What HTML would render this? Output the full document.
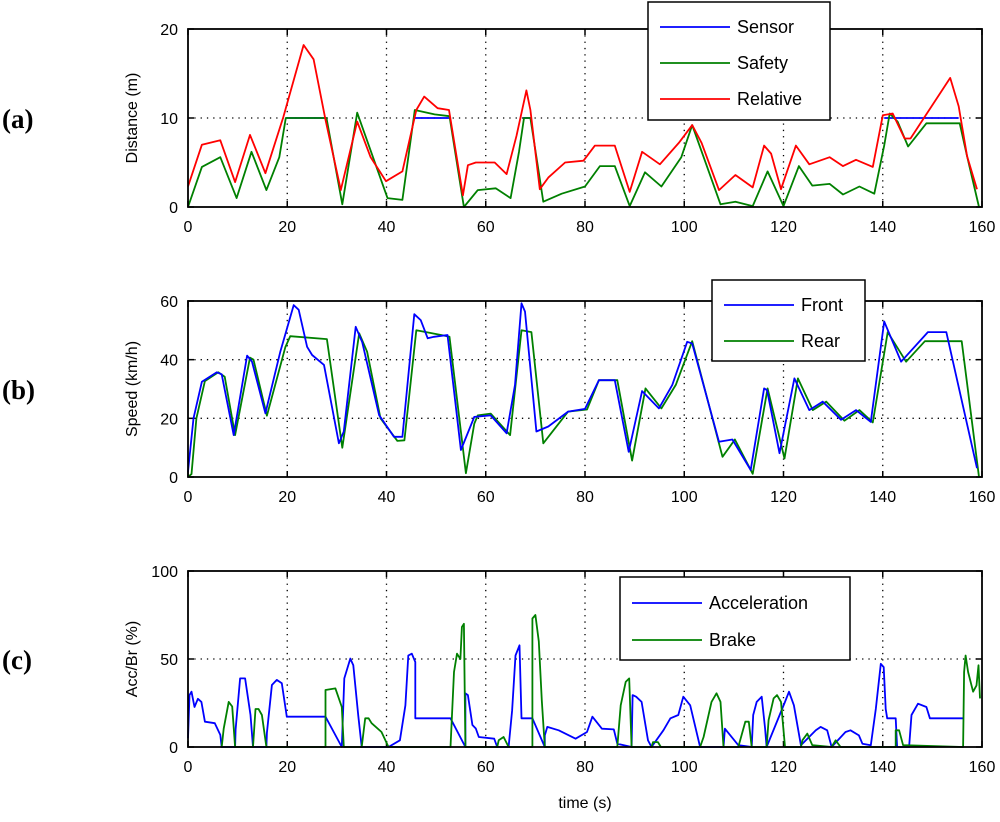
<!DOCTYPE html>
<html><head><meta charset="utf-8"><style>
body{margin:0;background:#fff;}
svg text{font-family:"Liberation Sans",Arial,sans-serif;}
</style></head><body>
<svg id="c" width="1000" height="817" viewBox="0 0 1000 817" xmlns="http://www.w3.org/2000/svg"></svg>
<script>
// ---------- Panel (a) data ----------
const tRel=[0,2.8,6.5,9.5,12.5,15.6,19.2,23.3,25.3,27.7,30.8,34.1,36.8,39.9,43.2,46,47.6,50.3,52.6,55.4,56.4,58,61.8,64.2,66.2,68.2,69,70.9,72.6,76,79.7,82,86,89,91.5,95.1,98.9,101.6,103.5,107,110.3,113.8,116.1,117.5,119.5,122.5,125.2,129.3,132,134.6,138,140,142,144.4,145.6,153.6,155.3,157,159];
const vRel=[2.3,7.0,7.5,2.8,8.1,3.8,10.1,18.2,16.6,9.8,1.9,9.6,5.6,2.9,4.0,10.9,12.4,11.1,10.9,1.3,4.7,5.0,5.0,3.7,8.0,13.1,10.9,2.0,3.3,5.0,5.2,6.9,6.9,1.7,6.2,4.8,7.2,9.2,7.2,1.9,3.6,2.2,6.9,6.0,2.0,6.9,4.8,5.6,4.6,5.3,4.5,10.3,10.5,7.7,7.7,14.5,11.3,5.7,2.0];
// sensor segments: consecutive pairs (start,end)
const tSen=[19.7,27.9,45.7,52.7,67.5,69.3,140.3,155.3];
const vSen=[10,10,10,10,10,10,10,10];
const tSaf=[0,2.8,6.5,9.8,12.8,15.8,18.4,19.7,27.9,31.1,34.1,40.2,43.2,45.7,49.7,52.7,55.6,58.4,62,65,66.7,67.7,69,71.6,75.3,80,83,86,89,92.1,95.4,99.4,101.6,107.3,110.3,113.8,116.8,120,123.1,125.8,129.3,132,135.3,138.3,140.3,141.4,143,145.1,148.8,155.5,157,159.4];
const vSaf=[0,4.5,5.6,1.0,6.2,1.9,5.6,10,10,0.3,10.6,1.0,0.8,10.9,10.4,10.2,0,1.9,2.1,1.0,6.2,10,10,0.6,1.5,2.3,4.6,4.6,0.1,3.9,2.3,5.6,9.2,0.3,0.6,0.1,4.0,0.1,4.6,2.4,2.6,1.4,2.3,1.5,6.9,10.5,9.6,6.8,9.4,9.4,5.7,0];
// ---------- Panel (b) data ----------
const tFront=[0,1.1,2.8,5.8,6.8,9.2,11.9,12.9,15.6,18.6,21.3,22.3,24,25,27.4,30.4,31.4,33.8,35.1,38.5,41.5,43.2,45.6,46.9,48.3,49.6,52.3,55,57.7,61,64.2,65.9,67.2,67.9,70.2,72.6,76.6,80,82.8,86,88.8,91.5,94.9,97.6,100.6,101.6,107,109.7,113.4,116.1,116.7,119.2,122.2,125.2,127.9,131.6,134.6,137.6,140.3,143.7,149.1,152.8,159];
const vFront=[1.8,20,32.5,35.7,35,14.3,41.4,39.3,21.7,42.7,58.6,57,44.4,41.6,38.2,11.5,15.5,51.2,46,21.1,13.7,13.7,55.5,53.5,47.3,47.8,48.4,9.2,20.5,21,14.9,31.4,59.2,56.4,15.5,17.2,22.3,23.2,33,33,8.6,29.3,23.4,31.4,46.1,45.5,12,12.8,2.4,30.2,29.6,8.1,33.6,22.8,25.7,19.5,22.8,18.8,53,39.3,49.4,49.4,3];
const tRear=[0,0.7,1.7,3.4,6.1,7.4,9.5,12.5,13.2,15.9,19.6,20.6,28,31.1,34.5,36.1,38.8,42.2,43.6,46,51,52.7,56,57.7,58.4,61,64.9,67.2,69.2,71.6,76.6,80.4,82.8,86.5,89.5,92.2,95.4,98.3,101.6,107.7,110.2,113.8,116.8,120.2,122.9,125.9,128.6,132.3,135.3,138,141,144.7,148.5,155.9,159.4];
const vRear=[0,1,20,32.7,35.7,34.2,14.3,40.7,40,20.9,44.2,48,47,10,49,42.7,20,12.3,12.5,50,48.4,47.8,1.3,18.2,21,21.6,14.3,50,49.4,11.5,22.3,23,33,33,5.6,30.2,23.4,31.4,46.3,6.9,12.8,1.1,30.2,6.3,33.6,22.8,25.7,19.2,22.8,18.6,49.4,39.3,46.3,46.3,0];
// ---------- Panel (c) data ----------
const tAcc=[0,0.3,0.7,1.3,2,2.7,3.4,5.4,6.5,6.8,9.5,9.6,10.5,11.5,12.6,13.1,15.8,15.9,16.9,17.9,18.9,19.9,27.7,31,31.5,32.7,33.3,34.3,35,40.4,42.7,43.8,44.4,45.1,45.8,45.8,52.9,55.9,55.9,56.4,57.3,58,58.6,61.7,62.3,64.6,65.3,66,66.8,67.2,69.4,71.9,71.9,72.4,74.7,78.1,80.4,81.5,83.4,85.8,86.5,89.4,89.6,90.3,91.4,92.7,93.4,95.8,97.2,98.8,99.8,101.2,103.2,107.9,108.2,110.9,113.6,113.9,114.6,115.6,116.3,116.6,120.3,121.1,122.1,123.5,126.5,127.5,128.8,129.7,132.5,133.5,135.2,135.9,137.6,138.6,139.6,140.2,140.6,140.9,142.6,142.9,145.3,145.8,147.1,148.8,149.5,156.2];
const vAcc=[5,29.5,31.4,22.7,27.4,25.6,14.4,13.5,6.9,0,0,10,39,39,18.2,0,0,8,35.2,38.1,36.2,17.2,17.2,0,39,50.2,46.4,18.2,0,0,3.8,23.7,52,53,48.3,16.3,16.3,0,30.5,29.5,12.5,10.5,5.7,4.7,0,0,20.6,52,57.8,16.3,16.3,0,6.6,11.4,9.5,4.7,8.5,17.2,10.4,10,1.9,0,29.5,28.6,25.6,3.8,0,9.5,16.3,18.2,28.6,23.7,0,0,10.4,1,0,18.2,25.6,28.6,10.4,0,25.6,31.4,23.7,1,9.5,11.4,9.5,0,8.5,9.5,6.6,1.9,1,21.6,47.3,45.4,21.6,16.3,16.3,0,0,18.2,24.6,22.7,16.3,16.3];
const tBrk=[6.8,7.2,8.2,8.9,9.5,13.1,13.6,14.2,14.9,15.8,27.7,27.7,29.7,31,31.4,35,35.7,36.4,37,39,40.4,52.9,53.6,54.2,54.9,55.2,55.6,55.9,62.3,62.6,63.6,64.6,69.4,69.4,70,70.7,71.3,71.9,86.5,87.2,88.2,88.9,89.4,93.4,93.7,94.7,95.3,103.2,103.9,105.5,106.5,107.3,107.9,110.9,112.3,113,113.6,116.6,117,118,118.7,119.5,120.3,123.5,123.8,124.8,125.8,129.7,130.5,131.5,142.6,142.6,143.3,144.1,156.2,156.4,156.7,157.2,158.2,158.9,159.3,159.6];
const vBrk=[0,10.4,25.6,23,0,0,21.6,21.6,18.2,0,0,32.4,33.3,22.7,0,0,16.3,16.3,13.5,8.5,0,0,42.6,53,50,68.2,70,0,0,3.8,5.7,0,0,73,75,60,26.5,0,0,23.7,37,39,0,0,2.8,2.8,0,0,5.7,25.6,30.5,25.6,0,0,14.4,14.4,0,0,15.3,27.6,29.5,25.6,0,0,3.8,7.6,1,0,3.8,0,0,9.5,9.5,1,0,42.6,52,42.6,31.4,35,46.4,27.6];
const xTicks=[0,20,40,60,80,100,120,140,160];
const yTicksA=[0,10,20], yTicksB=[0,20,40,60], yTicksC=[0,50,100];

const svg=document.getElementById('c');
const NS='http://www.w3.org/2000/svg';
function mk(tag,attrs,parent){const e=document.createElementNS(NS,tag);for(const k in attrs)e.setAttribute(k,attrs[k]);(parent||svg).appendChild(e);return e;}
const X0=188,X1=982;
function xs(t){return X0+(X1-X0)*t/160;}
function makeAxes(name,top,bot,ymax,yTicks,ylabel,tag){
  const g=mk('g',{});
  
  
  const ys=v=>bot-(bot-top)*v/ymax;
  xTicks.forEach(t=>{const x=xs(t);
    if(t>0&&t<160){const l=mk('line',{x1:x,y1:top,x2:x,y2:bot,stroke:'#000','stroke-width':1.3,'stroke-dasharray':'1.3 5'},g);}
    mk('line',{x1:x,y1:bot,x2:x,y2:bot-6,stroke:'#000','stroke-width':1.5},g);
    mk('line',{x1:x,y1:top,x2:x,y2:top+6,stroke:'#000','stroke-width':1.5},g);
    const tx=mk('text',{x:x,y:bot+25,'font-size':16,'text-anchor':'middle'},g);tx.textContent=t;
    });
  yTicks.forEach(v=>{const y=ys(v);
    if(v>0&&v<ymax){const l=mk('line',{x1:X0,y1:y,x2:X1,y2:y,stroke:'#000','stroke-width':1.3,'stroke-dasharray':'1.3 5'},g);}
    mk('line',{x1:X0,y1:y,x2:X0+6,y2:y,stroke:'#000','stroke-width':1.5},g);
    mk('line',{x1:X1,y1:y,x2:X1-6,y2:y,stroke:'#000','stroke-width':1.5},g);
    const tx=mk('text',{x:178,y:y+6,'font-size':16,'text-anchor':'end'},g);tx.textContent=v;
    });
  const yl=mk('text',{x:0,y:0,'font-size':16,'text-anchor':'middle',transform:`translate(137,${(top+bot)/2}) rotate(-90)`},g);yl.textContent=ylabel;
  
  const tg=mk('text',{x:2,y:(top+bot)/2+10,'font-size':27,'font-weight':'bold',style:'font-family:"Liberation Serif",serif'},g);tg.textContent=tag;
  
  return {g,ys,top,bot};
}
function line(ax,ts,vs,color,name){
  const p=ts.map((t,i)=>xs(t).toFixed(1)+','+ax.ys(vs[i]).toFixed(1)).join(' ');
  const e=mk('polyline',{points:p,fill:'none',stroke:color,'stroke-width':1.8,'stroke-linejoin':'round'},ax.g);
  
  
}
function segments(ax,ts,vs,color,name){
  for(let i=0;i+1<ts.length;i+=2){
    const e=mk('line',{x1:xs(ts[i]),y1:ax.ys(vs[i]),x2:xs(ts[i+1]),y2:ax.ys(vs[i+1]),stroke:color,'stroke-width':1.8},ax.g);
    
    
  }
}
function box(ax){const r=mk('rect',{x:X0,y:ax.top,width:X1-X0,height:ax.bot-ax.top,fill:'none',stroke:'#000','stroke-width':1.8},ax.g);
  }
function legend(name,x,y,w,h,entries,gap,first){
  const g=mk('g',{});
  
  
  mk('rect',{x:x,y:y,width:w,height:h,fill:'#fff',stroke:'#000','stroke-width':1.5},g);
  entries.forEach((en,i)=>{const yy=y+first+i*gap;
    const item=mk('g',{},g);
    
    
    mk('line',{x1:x+12,y1:yy,x2:x+82,y2:yy,stroke:en[1],'stroke-width':1.8},item);
    const t=mk('text',{x:x+89,y:yy+6,'font-size':18},item);t.textContent=en[0];});
}
const A=makeAxes('distance-chart',29,207,20,yTicksA,'Distance (m)','(a)');
segments(A,tSen,vSen,'#0000ff','sensor-line');
line(A,tSaf,vSaf,'#008000','safety-line');
line(A,tRel,vRel,'#ff0000','relative-line');
box(A);
legend('distance-legend',648,2,182,118,[['Sensor','#0000ff'],['Safety','#008000'],['Relative','#ff0000']],36,25);
const B=makeAxes('speed-chart',301,477,60,yTicksB,'Speed (km/h)','(b)');
line(B,tRear,vRear,'#008000','rear-line');
line(B,tFront,vFront,'#0000ff','front-line');
box(B);
legend('speed-legend',712,280,153,81,[['Front','#0000ff'],['Rear','#008000']],36,25);
const C=makeAxes('acc-brake-chart',571,747,100,yTicksC,'Acc/Br (%)','(c)');
line(C,tAcc,vAcc,'#0000ff','acceleration-line');
line(C,tBrk,vBrk,'#008000','brake-line');
box(C);
legend('acc-brake-legend',620,577,230,83,[['Acceleration','#0000ff'],['Brake','#008000']],37,26);
const xl=mk('text',{x:585,y:808,'font-size':16,'text-anchor':'middle'});xl.textContent='time (s)';


</script>
</body></html>
